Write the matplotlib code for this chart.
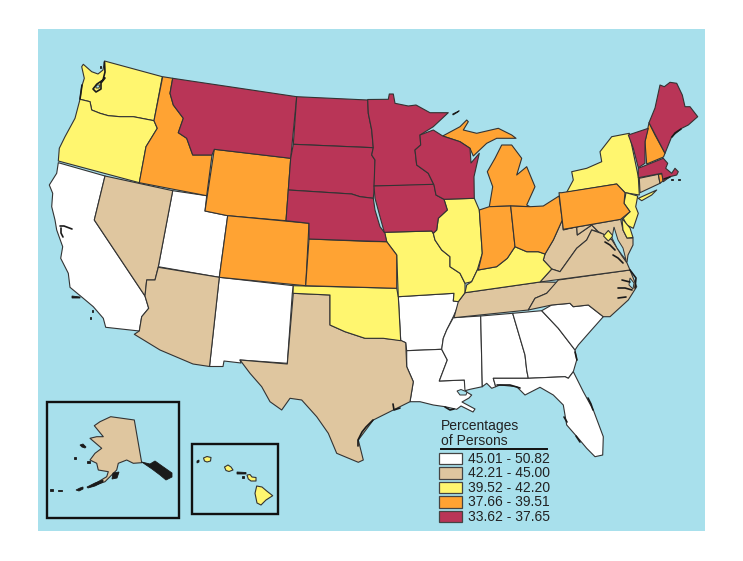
import matplotlib
matplotlib.use('Agg')
import matplotlib.pyplot as plt
from matplotlib.patches import Polygon, Rectangle

plt.rcParams['font.family'] = ['Liberation Sans', 'DejaVu Sans']

# class labels and colours
bin_labels = ['45.01 - 50.82', '42.21 - 45.00', '39.52 - 42.20', '37.66 - 39.51', '33.62 - 37.65']
bin_colors = ['#ffffff', '#dfc69f', '#fff66f', '#ffa333', '#b93557']

# which class each state falls in
class_0 = ['CA', 'UT', 'NM', 'AR', 'LA', 'MS', 'AL', 'GA', 'SC', 'FL']
class_1 = ['NV', 'AZ', 'TX', 'TN', 'NC', 'WV', 'MD', 'VA', 'CT', 'AK']
class_2 = ['WA', 'OR', 'OK', 'MO', 'IL', 'KY', 'NY', 'NJ', 'DE', 'DC', 'LI', 'HI1', 'HI2', 'HI3', 'HI4']
class_3 = ['ID', 'WY', 'CO', 'KS', 'MI1', 'MI2', 'IN', 'OH', 'PA', 'NH', 'RI']
class_4 = ['MT', 'ND', 'SD', 'NE', 'MN', 'IA', 'WI', 'VT', 'MA', 'ME']

# state outlines
outlines = {}
outlines['WA'] = [(104.5,61),(162.3,76.7),(154,120.7),(133.3,116.7),(120,116.7),(108.3,115.7),(100,113.3),(91.7,110),(90,101.7),(80,99.3),(81.7,86.7),(84.3,78.3),(81.7,66.7),(83.3,64.3),(91.7,71.7),(98,74),(103,70)]
outlines['OR'] = [(80,99.3),(90,101.7),(91.7,110),(100,113.3),(108.3,115.7),(120,116.7),(133.3,116.7),(154,120.7),(157.3,128.3),(146,146.7),(139.3,182.7),(58.3,161),(59.3,148.3),(65,136.7),(75,118.3)]
outlines['CA'] = [(58.3,162.7),(105,176),(94.3,220),(145,296),(148.7,308.3),(141.7,316.7),(139.3,331),(105.7,327.3),(103.3,318.3),(93.3,306.7),(83.3,298.3),(70,287.3),(68.3,273.3),(60.7,258.3),(62.7,246.7),(56.7,230),(55,220),(51.7,206.7),(52.7,193.3),(49.3,185),(56.7,173.3)]
outlines['NV'] = [(105,176),(172.7,190.7),(158.3,266.7),(155,280),(146.7,280),(145,296),(94.3,220)]
outlines['ID'] = [(162.7,76.7),(172.7,78.3),(170,93.3),(173.3,105),(183.3,118.3),(178.3,132.7),(186.7,138.3),(192.7,155),(212,155),(206.7,195.7),(139.3,182.7),(146,146.7),(157.3,128.3),(154,120.7)]
outlines['MT'] = [(172.7,78.3),(296.7,96.7),(290.7,158.3),(214.3,149.3),(212,155),(192.7,155),(186.7,138.3),(178.3,132.7),(183.3,118.3),(173.3,105),(170,93.3)]
outlines['WY'] = [(214.3,149.3),(290.7,158.3),(286,220.7),(227.7,215.7),(205,211)]
outlines['UT'] = [(172.7,190.7),(206.7,195.7),(205,211),(227.7,215.7),(219.3,277.3),(158.3,266.7)]
outlines['CO'] = [(227.7,215.7),(309,223.3),(305.7,285.7),(219.3,277.3)]
outlines['AZ'] = [(158.3,267.3),(219.3,277.3),(209.5,366.5),(193,364),(160,350),(134.3,334.3),(139.3,331),(141.7,316.7),(148.7,308.3),(145,296),(146.7,280),(155,280)]
outlines['NM'] = [(219.3,277.3),(293.3,285.7),(292.3,293.3),(287.3,363.3),(240,360),(241,363),(224,361),(223,366.5),(209.5,366.5)]
outlines['TX'] = [(293.3,293.3),(330,295),(330,325),(345,331.7),(365,338.3),(383.3,338.3),(400,340),(405.7,342.7),(406.7,366.7),(413.3,381.7),(410,401.7),(393.3,410),(373.3,420),(358.3,440),(363.3,460),(358.3,462.3),(336.7,453.3),(328.3,433.3),(316.7,416.7),(301.7,400),(290,398.3),(281.7,410),(270,401.7),(261.7,386.7),(250,373.3),(240,360),(287.3,364)]
outlines['OK'] = [(293.3,285.7),(305.7,286),(396.7,288.3),(398.3,296.7),(400.7,340.7),(383.3,338.3),(365,338.3),(345,331.7),(330,325),(330,295),(293,293.3)]
outlines['KS'] = [(309,239),(370,241.5),(386.7,241.7),(396.7,255),(396.7,288.3),(305.7,285.7)]
outlines['NE'] = [(288.3,190),(351.7,194),(360,196.7),(373.3,198.3),(375,210),(380,226.7),(385,233.3),(386.7,241.7),(309,239),(309,223.3),(286,220.7)]
outlines['SD'] = [(293.3,144.3),(373.3,147.7),(371.7,155),(375,160),(374.3,186.7),(373.3,198.3),(360,196.7),(351.7,194),(288.3,190),(290.7,158.3)]
outlines['ND'] = [(296.7,96.7),(367.7,100),(368.3,113.3),(371.7,130),(373.3,147.7),(293.3,144.3)]
outlines['MN'] = [(367.7,99.5),(388.3,99.3),(389.3,94),(393.3,94),(395,103.3),(408.3,106),(416,105),(430,112.7),(448.3,112.7),(433.3,126.7),(420,135),(420.7,145),(415,150),(416.7,165),(428.3,173.3),(434,185),(374,186),(375,160),(371.7,155),(373.3,147.7),(371.7,130),(368.3,113.3)]
outlines['IA'] = [(374,186),(434,184.3),(436,195),(444,199.3),(447.3,210),(438.3,218.3),(436.7,230),(433.3,233.3),(431.7,231),(384.3,232.3),(380,216.7),(375,198.3)]
outlines['WI'] = [(420,135),(433.3,130),(442.7,136),(460,141.7),(470,148.3),(471,163),(479.3,153.3),(474,176.7),(474.3,198.3),(444,199.3),(436,195),(434,185),(428.3,173.3),(416.7,165),(415,150),(420.7,145)]
outlines['IL'] = [(444,199.3),(474.3,198.3),(479.3,210),(482.3,253.3),(477.3,270),(471.7,281.7),(465,283.3),(460,273.3),(450,266.7),(450,256.7),(441.7,250),(435,240),(433.3,233.3),(436.7,230),(438.3,218.3),(447.3,210)]
outlines['IN'] = [(479.3,210),(489.3,206.7),(510.7,206),(515,246.7),(507.3,258.3),(496.7,266.7),(478.3,270),(482.3,253.3)]
outlines['OH'] = [(510.7,206),(530,206.7),(543.3,206),(559,196),(562.3,220),(553.3,240),(545,254),(538.3,251.7),(526.7,251.7),(515,246.7)]
outlines['KY'] = [(478.3,270),(496.7,266.7),(507.3,258.3),(515,246.7),(526.7,251.7),(538.3,251.7),(545,254),(543.3,260),(551.7,269),(540,282),(465,292.7),(466.7,285),(471.7,281.7),(477.3,270)]
outlines['MO'] = [(384.3,232.3),(431.7,231),(433.3,233.3),(435,240),(441.7,250),(450,256.7),(450,266.7),(460,273.3),(465,283.3),(465,292.7),(458.3,301.7),(453.3,301),(454,293.3),(398.3,296.7),(396.7,255),(386.7,241.7)]
outlines['AR'] = [(398.3,296.7),(454,293.3),(453.3,301),(460,301.7),(453.3,316.7),(446.7,330),(443.3,338.3),(441.7,349.3),(406.7,350.7),(405.7,342.7),(400.7,340.7)]
outlines['LA'] = [(406.7,350.7),(441.7,349.3),(447.3,360),(439.3,381),(464.3,380),(466,391.7),(471.7,395),(469,398),(462,402),(475,409),(473,412),(461,406),(456.7,409.3),(445,406.7),(433.3,405),(420,401.7),(410,401.7),(413.3,381.7),(406.7,366.7)]
outlines['MS'] = [(453.3,317.7),(480.7,316),(482.3,386.7),(470,389.3),(465,390.7),(464.3,380),(439.3,381),(447.3,360),(441.7,349.3),(443.3,338.3),(446.7,330)]
outlines['AL'] = [(480.7,316),(512.7,313.3),(525,355),(526.7,370),(528.3,378.3),(493.3,378.3),(495.7,386.7),(491.7,388.3),(486.7,383.3),(482.3,386.7)]
outlines['GA'] = [(512.7,313.3),(541.7,310.7),(558.3,328.3),(575,350),(576.7,360),(573.3,371.7),(568.3,378.3),(565,376.7),(528.3,378.3),(526.7,370),(525,355)]
outlines['SC'] = [(541.7,310.7),(551.7,305),(570,303.3),(573.3,306.7),(588.3,305),(603.3,316.7),(590,331.7),(578.3,345),(575,350),(558.3,328.3)]
outlines['FL'] = [(493.3,378.3),(528.3,378.3),(565,376.7),(568.3,378.3),(573.3,371.7),(583.3,391.7),(593.3,410),(603.3,436.7),(602.7,455),(595,456.7),(586.7,448.3),(578.3,438.3),(566.7,425),(563.3,405),(553.3,395),(540,387.3),(525,395),(516.7,386.7),(500,385),(495.7,386.7)]
outlines['TN'] = [(465,292.7),(540,282),(558.3,282.3),(546.7,293.3),(535,298.3),(528.3,310),(454,317.7),(458.3,301.7)]
outlines['NC'] = [(558.3,280),(630,270),(636.7,286.7),(628.3,300),(610,316.7),(603.3,316.7),(588.3,305),(573.3,306.7),(570,303.3),(551.7,305),(528.3,310),(535,298.3),(546.7,293.3)]
outlines['VA'] = [(540,282),(551.7,269),(560,271.7),(576.7,248.3),(586.7,240),(591.7,230),(603,234),(612,240),(622,256),(627,263),(630,270)]
outlines['WV'] = [(545,254),(553.3,240),(562.3,220),(563.3,230),(576.7,226.7),(577.3,235),(591.7,225),(598.3,231.7),(591.7,230),(586.7,240),(576.7,248.3),(560,271.7),(551.7,269),(543.3,260)]
outlines['MD'] = [(563.3,229.3),(620.7,219.3),(623,230),(627,238),(633,238),(633,245),(628,255),(627,262),(621,256),(612,240),(603,234),(598.3,231.7),(591.7,225),(577.3,235),(576.7,226.7)]
outlines['DE'] = [(622,218.5),(630,228),(633,237.5),(627,238),(623,230)]
outlines['DC'] = [(608.3,230.5),(613,236),(608.3,241),(603.5,236)]
outlines['PA'] = [(559,192.7),(561.7,192.7),(616.7,184),(625,192.7),(624,203.3),(630,211.7),(620.7,219.3),(563.3,229.3)]
outlines['NY'] = [(566.7,192.3),(573.3,180),(571.7,171.7),(586.7,168.3),(601.7,161.7),(600,151.7),(611.7,136.7),(629.3,133.3),(638.3,176.7),(639.3,195),(625,192.7),(616.7,184)]
outlines['LI'] = [(638.3,198.3),(656.7,190),(651.7,195),(641.7,200.7)]
outlines['NJ'] = [(626,192.7),(637.7,196),(635.7,206.7),(638.3,213.3),(633.3,228.3),(626.7,225),(623.3,218.3),(630,211.7),(624,203.3)]
outlines['CT'] = [(639.3,178.3),(658.3,174.3),(660,183.3),(640,192.7)]
outlines['RI'] = [(658.3,174.3),(662.3,174),(663,181),(660,183.3)]
outlines['MA'] = [(638.3,168.3),(663.3,158.3),(667.7,163.3),(665.7,168.3),(671.7,173.3),(675,168.3),(678.3,171.7),(676.7,175),(670,176.7),(663.3,181.7),(661.7,173.3),(638.3,177.7)]
outlines['VT'] = [(628.3,135),(648.3,128.3),(645,141.7),(645,163.3),(638.3,167.7),(633.3,148.3)]
outlines['NH'] = [(649,122.7),(655,135),(665,153.3),(663.5,157),(646.7,164),(645,141.7)]
outlines['ME'] = [(649,122.7),(655,108),(660,85),(664.3,86.7),(670,82.3),(676.7,83.3),(682.3,95),(685,106.7),(690,106.7),(697.7,116.7),(688.3,125),(681.7,128.3),(671.7,136.7),(665,153.3)]
outlines['MI1'] = [(489.3,206.7),(492.7,186.7),(487.3,171.7),(495,158.3),(501.7,145),(511.7,145),(521.7,158.3),(516.7,175),(526.7,166.7),(535,186.7),(526.7,205),(530,206.7),(510.7,206)]
outlines['MI2'] = [(442.7,136),(460,126.7),(466.7,120),(468.3,121.7),(463.3,130),(476.7,133.3),(498.3,128.3),(511.7,135),(516,138.3),(496.7,138.3),(486.7,143.3),(473.3,156),(470,148.3),(460,141.7)]
outlines['AK'] = [(110.7,416.7),(134.3,420),(141.7,462.7),(133.3,463.3),(126.7,460),(118.3,463.3),(116.7,470),(105,481.7),(90,486.7),(106.7,476.7),(108.3,471.7),(98.3,470),(96.7,463.3),(90,460),(95,453.3),(101.7,448.3),(90,438.3),(96.7,436.7),(103.3,436.7),(94.3,425.7),(100,421.7)]
outlines['HI1'] = [(256.7,486),(262,487),(266.7,491),(272.7,495.7),(266,500),(261,505),(257,503),(255,493.3)]
outlines['HI2'] = [(247,475),(250,474.5),(252,477),(256,477.5),(256,481),(251,481),(248.3,479)]
outlines['HI3'] = [(224.5,467),(228,465),(231,467),(233,470),(229,471.5),(226,470.5)]
outlines['HI4'] = [(203.5,458),(207,456.5),(211,457.5),(210.5,461),(207,462),(204.5,461)]

# bits of coast that come out nearly black at this size
dark_bits = [
    [(141.7,462),(150,464),(155,461),(162,466),(172,473),(172,477),(166,480),(160,475),(152,469)],
    [(113,473),(119,472),(117,478),(112,479)],
    [(76,490),(80,488),(83,487),(83,489),(79,491)],
    [(87,487),(95,483),(103,480),(103,482),(95,486),(88,488)],
    [(80,445),(83,444),(86,447),(85,448),(82,447)],
    [(74,457),(76,457),(76,459),(74,459)],
    [(87,461),(90,461),(90,463),(87,463)],
    [(50,489),(53,489),(53,491),(50,491)],
    [(58,490),(62,490),(62,491),(58,491)],
    [(237,472),(246,472.5),(246,474),(237,474)],
    [(197,461),(199,460),(199,462),(197,463)],
    [(242,476),(244,476),(244,478),(242,478)],
    [(452.7,114),(459.3,110.7),(458,112),(453,115)],
    [(100,66),(101,66),(101,68),(100,68)],
    [(91.5,310),(93,310),(93,312),(91.5,312)],
    [(89.5,317),(91,317),(91,319),(89.5,319)],
    [(72,296),(80,297),(80,298),(72,298)],
    [(671,178.5),(673,178.5),(673,180),(671,180)],
    [(678,178.5),(680,178.5),(680,180),(678,180)],
]

# thick little stretches of shoreline
coast_marks = [
    [(104.5,62),(105,72),(103,80),(97,84),(93,89),(96,92),(101,89),(101,83),(105,78)],
    [(82,85),(81,92),(80,99)],
    [(60,226),(64,226),(72,229)],
    [(61,228),(61,233),(63,237)],
    [(373,420),(366,427),(362,432),(358,440),(358,446)],
    [(393,404),(394,410),(400,408)],
    [(445,407),(450,410),(454,409)],
    [(497,385),(510,385),(520,388)],
    [(588,398),(591,404),(593,410)],
    [(564,417),(567,422)],
    [(576,436),(580,442)],
    [(575,352),(577,360)],
    [(605,242),(610,245),(615,250)],
    [(613,255),(618,258),(623,263)],
    [(618,288),(625,288),(632,290)],
    [(622,280),(630,282)],
    [(618,298),(626,297)],
    [(630,270),(636,278),(635,288)],
    [(681,129),(675,133),(672,137)],
    [(664,179),(670,177)],
]

# water inlets on top of the land
water_bits = [
    [(614,227),(618,240),(623,248),(626,260),(622,255),(617,248),(612,238)],
    [(457,391),(461,389.5),(467,392),(466,395),(460,395)],
    [(96,85),(100,85),(99,88),(96,88)],
    [(630,278),(634,283),(633,289),(629,285)],
]

# legend text
legend_title = ['Percentages', 'of Persons']

fig = plt.figure(figsize=(7.43, 5.61), dpi=100)
ax = fig.add_axes([0, 0, 1, 1])
ax.set_xlim(0, 743)
ax.set_ylim(561, 0)
ax.axis('off')

water = '#a8e0ec'
edge = '#333333'
ax.add_patch(Rectangle((38, 29), 667, 502, fc=water, ec='none', zorder=0))

for colour, states in zip(bin_colors, [class_0, class_1, class_2, class_3, class_4]):
    for st in states:
        ax.add_patch(Polygon(outlines[st], closed=True, fc=colour, ec=edge, lw=0.8, zorder=2, joinstyle='round'))

for pts in water_bits:
    ax.add_patch(Polygon(pts, closed=True, fc=water, ec=edge, lw=0.7, zorder=3))
for pts in dark_bits:
    ax.add_patch(Polygon(pts, closed=True, fc='#1a1a1a', ec='#1a1a1a', lw=0.6, zorder=3))
for pts in coast_marks:
    xs = [p[0] for p in pts]
    ys = [p[1] for p in pts]
    ax.plot(xs, ys, color='#1a1a1a', lw=1.2, zorder=3, solid_capstyle='round')

# inset frames
ax.add_patch(Rectangle((46.7, 401.7), 132.6, 116, fc='none', ec='#111111', lw=1.7, zorder=4))
ax.add_patch(Rectangle((192.3, 444), 85.4, 69.7, fc='none', ec='#111111', lw=1.7, zorder=4))

# legend
ax.text(441, 426, legend_title[0], fontsize=10, color='#222222', va='center', ha='left')
ax.text(441, 441, legend_title[1], fontsize=10, color='#222222', va='center', ha='left')
ax.plot([441, 547], [449, 449], color='#111111', lw=1.4, zorder=4)
for i, (lab, colour) in enumerate(zip(bin_labels, bin_colors)):
    y = 452.7 + i * 14.5
    ax.add_patch(Rectangle((438.7, y), 23.6, 11.6, fc=colour, ec='#444444', lw=0.9, zorder=4))
    ax.text(468.3, y + 6, lab, fontsize=10, color='#222222', va='center', ha='left')

fig.savefig('out.png', dpi=100)
